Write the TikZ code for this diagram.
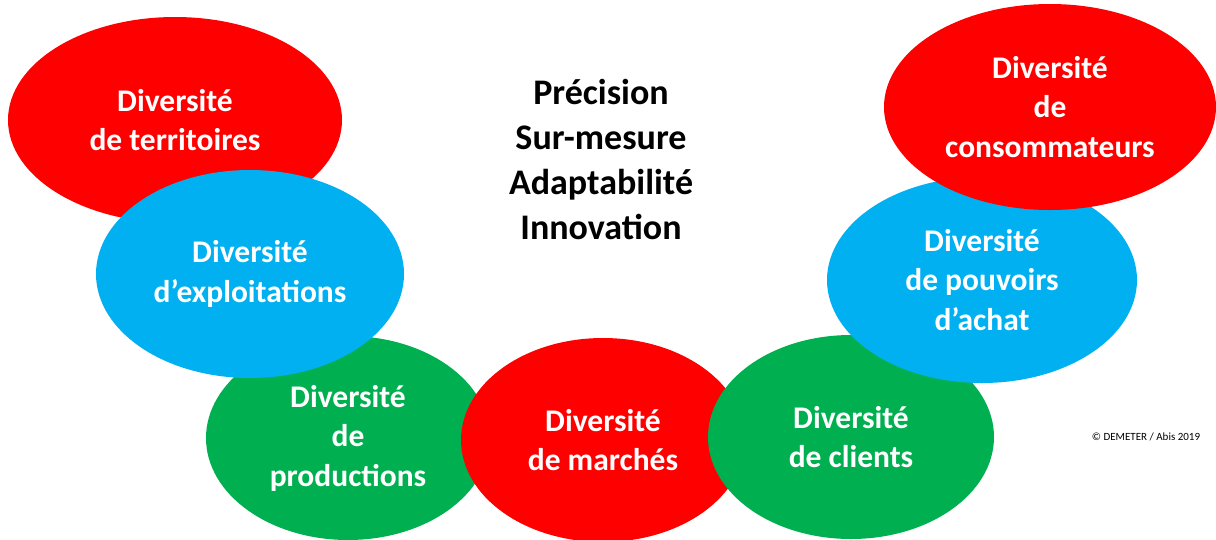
\documentclass[tikz,border=0pt]{standalone}
\usepackage{fontspec}
\setmainfont{Carlito}
\usetikzlibrary{shapes.geometric}
\definecolor{Rouge}{HTML}{FF0000}
\definecolor{Bleu}{HTML}{00B0F0}
\definecolor{Vert}{HTML}{00B050}

\begin{document}
\begin{tikzpicture}[x=1pt, y=-1pt,
    bulle/.style={ellipse, inner sep=0pt, text=white, align=center,
        font=\bfseries\fontsize{31.5}{39.5}\selectfont}]
        % Define the size of the page
        \def\largeur{1216}
        \def\hauteur{539}
        \useasboundingbox (0,0) rectangle (\largeur,\hauteur);

        % Left side of the arc
        \node[bulle, fill=Rouge, minimum width=334, minimum height=206] (territoires) at (175,120) {Diversité\\de territoires};
        \node[bulle, fill=Vert, minimum width=284, minimum height=204] (productions) at (348,438) {Diversité\\de\\productions};
        \node[bulle, fill=Bleu, minimum width=308, minimum height=208] (exploitations) at (250,274) {Diversité\\d’exploitations};

        % Bottom of the arc
        \node[bulle, fill=Rouge, minimum width=284, minimum height=204] (marches) at (603,440) {Diversité\\de marchés};
        \node[bulle, fill=Vert, minimum width=286, minimum height=204] (clients) at (851,437) {Diversité\\de clients};

        % Right side of the arc
        \node[bulle, fill=Bleu, minimum width=310, minimum height=206] (pouvoirs) at (982,280) {Diversité\\de pouvoirs\\d’achat};
        \node[bulle, fill=Rouge, minimum width=332, minimum height=206] (consommateurs) at (1050,107) {Diversité\\de\\consommateurs};

        % Words in the middle
        \node[align=center, font=\bfseries\fontsize{36}{45}\selectfont] (mots) at (601,159) {Précision\\Sur-mesure\\Adaptabilité\\Innovation};

        % Source
        \node[font=\fontsize{11}{13}\selectfont] (source) at (1146,437) {© DEMETER / Abis 2019};
    \end{tikzpicture}
\end{document}
